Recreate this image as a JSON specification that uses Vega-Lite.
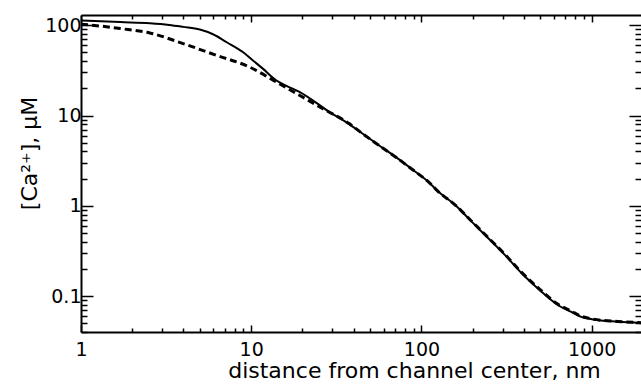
{
  "$schema": "https://vega.github.io/schema/vega-lite/v6.json",
  "autosize": {"type": "none"},
  "padding": {"left": 81, "top": 15, "right": 0, "bottom": 53},
  "width": 560,
  "height": 317,
  "background": "white",
  "config": {
    "view": {"stroke": null},
    "axis": {"grid": false, "domainColor": "black", "tickColor": "black", "labelColor": "black", "titleColor": "black", "labelFont": "DejaVu Sans", "titleFont": "DejaVu Sans", "titleFontWeight": "normal", "labelFontSize": 19, "titleFontSize": 22, "domainWidth": 2, "tickWidth": 1.5}
  },
  "datasets": {
    "solid": [
      {"x": 1, "y": 113}, {"x": 1.7, "y": 108.5}, {"x": 2.54, "y": 105.5}, {"x": 3.3, "y": 101}, {"x": 3.98, "y": 96}, {"x": 4.99, "y": 89.6},
      {"x": 5.96, "y": 79.5}, {"x": 7.14, "y": 65.3}, {"x": 8.93, "y": 50.6}, {"x": 10.2, "y": 41}, {"x": 11.7, "y": 33.1},
      {"x": 14.0, "y": 24.6}, {"x": 16.0, "y": 21.5}, {"x": 19.2, "y": 18.3}, {"x": 26.2, "y": 12.4}, {"x": 28.7, "y": 11.0}, {"x": 35.9, "y": 8.5},
      {"x": 45.0, "y": 6.32}, {"x": 56.2, "y": 4.69}, {"x": 70.5, "y": 3.48}, {"x": 88.1, "y": 2.54}, {"x": 110, "y": 1.84},
      {"x": 126, "y": 1.43}, {"x": 158, "y": 1.02}, {"x": 198, "y": 0.664}, {"x": 248, "y": 0.434}, {"x": 310, "y": 0.284},
      {"x": 388, "y": 0.179}, {"x": 496, "y": 0.116}, {"x": 635, "y": 0.0792}, {"x": 760, "y": 0.0668}, {"x": 869, "y": 0.0589},
      {"x": 1018, "y": 0.0551}, {"x": 1426, "y": 0.0521}, {"x": 1950, "y": 0.0506}
    ],
    "dashed": [
      {"x": 1, "y": 103}, {"x": 1.3, "y": 98}, {"x": 1.7, "y": 92}, {"x": 2.54, "y": 82.2}, {"x": 3.98, "y": 62.7}, {"x": 6.24, "y": 46.5},
      {"x": 9.77, "y": 34.5}, {"x": 14.0, "y": 23.6}, {"x": 19.2, "y": 16.8}, {"x": 26.2, "y": 12.0}, {"x": 37.6, "y": 8.15},
      {"x": 45.0, "y": 6.32}, {"x": 56.2, "y": 4.69}, {"x": 70.5, "y": 3.48}, {"x": 88.1, "y": 2.54}, {"x": 110, "y": 1.84},
      {"x": 126, "y": 1.43}, {"x": 158, "y": 1.02}, {"x": 198, "y": 0.67}, {"x": 248, "y": 0.44}, {"x": 310, "y": 0.289},
      {"x": 388, "y": 0.183}, {"x": 496, "y": 0.119}, {"x": 635, "y": 0.081}, {"x": 760, "y": 0.068}, {"x": 869, "y": 0.0598},
      {"x": 1018, "y": 0.0557}, {"x": 1426, "y": 0.0523}, {"x": 1950, "y": 0.0508}
    ]
  },
  "layer": [
    {
      "data": {"name": "solid"},
      "mark": {"type": "line", "color": "black", "strokeWidth": 2, "interpolate": "monotone"},
      "encoding": {
        "x": {"field": "x", "type": "quantitative",
          "scale": {"type": "log", "domain": [1, 1950], "nice": false},
          "axis": {"orient": "bottom", "title": "distance from channel center, nm",
            "values": [1,2,3,4,5,6,7,8,9,10,20,30,40,50,60,70,80,90,100,200,300,400,500,600,700,800,900,1000],
            "format": "~g",
            "labelExpr": "abs(log(datum.value)/LN10 - round(log(datum.value)/LN10)) < 1e-6 ? datum.label : ''",
            "tickSize": {"condition": {"test": "abs(log(datum.value)/LN10 - round(log(datum.value)/LN10)) < 1e-6", "value": -7}, "value": -4},
            "labelPadding": 15, "labelFlush": false,
            "titleX": 333, "titleY": 45, "titleBaseline": "alphabetic", "titleAlign": "center"}},
        "y": {"field": "y", "type": "quantitative",
          "scale": {"type": "log", "domain": [0.04, 130], "nice": false},
          "axis": {"orient": "left", "title": "[Ca²⁺], µM",
            "values": [0.04,0.05,0.06,0.07,0.08,0.09,0.1,0.2,0.3,0.4,0.5,0.6,0.7,0.8,0.9,1,2,3,4,5,6,7,8,9,10,20,30,40,50,60,70,80,90,100],
            "format": "~g",
            "labelExpr": "abs(log(datum.value)/LN10 - round(log(datum.value)/LN10)) < 1e-6 ? datum.label : ''",
            "tickSize": {"condition": {"test": "abs(log(datum.value)/LN10 - round(log(datum.value)/LN10)) < 1e-6", "value": -12}, "value": -6},
            "labelPadding": 12, "labelFlush": false,
            "titleX": -45, "titleY": 138, "titleBaseline": "alphabetic", "titleAlign": "center", "titleAngle": 270}}
      }
    },
    {
      "data": {"name": "dashed"},
      "mark": {"type": "line", "color": "black", "strokeWidth": 3, "strokeDash": [7, 4], "interpolate": "monotone"},
      "encoding": {
        "x": {"field": "x", "type": "quantitative",
          "scale": {"type": "log", "domain": [1, 1950], "nice": false},
          "axis": {"orient": "top", "title": null, "labels": false,
            "values": [1,2,3,4,5,6,7,8,9,10,20,30,40,50,60,70,80,90,100,200,300,400,500,600,700,800,900,1000],
            "tickSize": {"condition": {"test": "abs(log(datum.value)/LN10 - round(log(datum.value)/LN10)) < 1e-6", "value": -7}, "value": -4}}},
        "y": {"field": "y", "type": "quantitative",
          "scale": {"type": "log", "domain": [0.04, 130], "nice": false},
          "axis": {"orient": "right", "title": null, "labels": false, "domain": false,
            "values": [0.04,0.05,0.06,0.07,0.08,0.09,0.1,0.2,0.3,0.4,0.5,0.6,0.7,0.8,0.9,1,2,3,4,5,6,7,8,9,10,20,30,40,50,60,70,80,90,100],
            "tickSize": {"condition": {"test": "abs(log(datum.value)/LN10 - round(log(datum.value)/LN10)) < 1e-6", "value": -12}, "value": -6}}}
      }
    }
  ],
  "resolve": {"axis": {"x": "independent", "y": "independent"}}
}
